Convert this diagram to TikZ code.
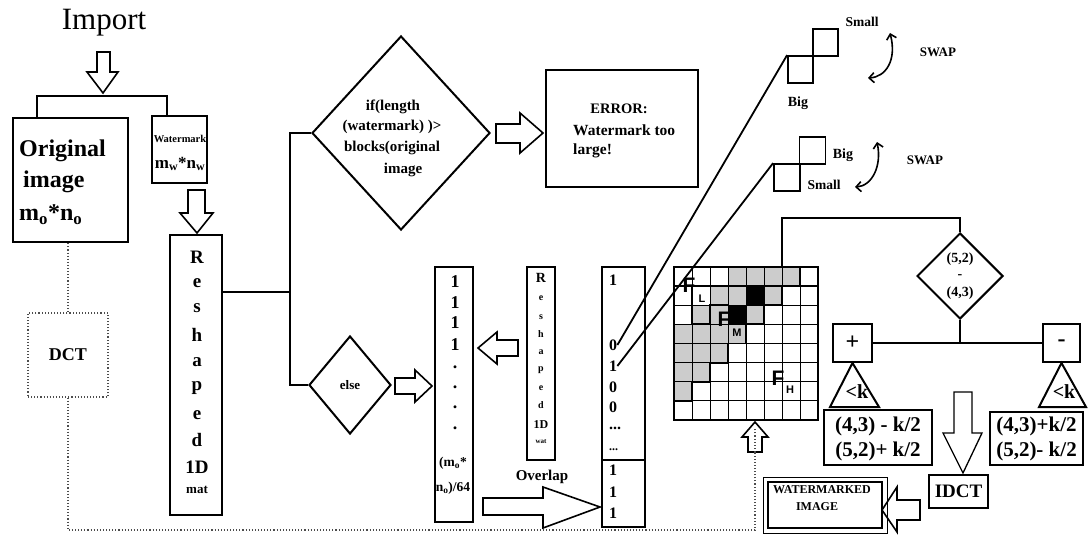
\documentclass[tikz,border=0pt]{standalone}
\usepackage{fontspec}
\setmainfont{Liberation Serif}
\setsansfont{Liberation Sans}
\usetikzlibrary{shapes.geometric,arrows.meta}
\begin{document}
\begin{tikzpicture}[x=1pt,y=-1pt,
 box/.style={draw,line width=2.4pt,inner sep=0,rectangle},
 tbox/.style={draw,line width=1.3pt,inner sep=0,rectangle},
 ln/.style={line width=1.6pt},
 harrow/.style={draw,line width=1.6pt,fill=white,line join=miter},
 dots/.style={dotted,line width=1.1pt,draw=black!70},
 tx/.style={inner sep=0,font=\bfseries\fontsize{#1}{#1}\selectfont},
 txr/.style={inner sep=0,font=\fontsize{#1}{#1}\selectfont},
 dia/.style={diamond,draw,line width=2pt,inner sep=0},
 sf/.style={inner sep=0,font=\sffamily\bfseries\fontsize{#1}{#1}\selectfont},
 barb/.style={line width=1.6pt,{Straight Barb[length=5pt,width=10pt]}-{Straight Barb[length=5pt,width=10pt]}},
]
\useasboundingbox (0,0) rectangle (1090,535);

% ---------- left part ----------
\node[txr=31] (imp) at (104,23) {Import};
\draw[harrow] (97,52)--(110,52)--(110,72)--(118,72)--(103,93)--(87,72)--(97,72)--cycle;

\node[box,minimum width=115pt,minimum height=124pt] (orig) at (70.5,180) {};
\node[tx=24,anchor=west] at (19,151) {Original};
\node[tx=24,anchor=west] at (23,182) {image};
\node[tx=24,anchor=west] at (19,215) {m\textsubscript{o}*n\textsubscript{o}};

\node[box,minimum width=55pt,minimum height=67pt] (wm) at (179.5,149.5) {};
\node[tx=10.5] at (180,139) {Watermark};
\node[tx=17] at (180,164) {m\textsubscript{w}*n\textsubscript{w}};

\draw[ln] ([xshift=25pt]orig.north west) -- ++(0,-21) -| ([xshift=16pt]wm.north west);

\draw[harrow] (188,190)--(205,190)--(205,213)--(213,213)--(197,233)--(180,213)--(188,213)--cycle;

\node[box,minimum width=52pt,minimum height=280pt] (resh) at (196,375) {};
\foreach \t/\y in {R/257,e/283,s/308,h/335,a/362,p/388,e/415,d/440,1D/467} \node[tx=19] at (197,\y) {\t};
\node[tx=13] at (197,490) {mat};

\node[draw,dotted,line width=1.1pt,draw=black!70,minimum width=80pt,minimum height=84pt,inner sep=0] (dct) at (68,355) {};
\node[tx=18] at (dct) {DCT};

% ---------- decision ----------
\node[dia,minimum width=178pt,minimum height=194pt] (d1) at (401,133) {};
\node[tx=15] at (393,107) {if(length};
\node[tx=15] at (392,127) {(watermark) )>};
\node[tx=15] at (392,148) {blocks(original};
\node[tx=15] at (403,170) {image};

\node[dia,minimum width=82pt,minimum height=98pt] (else) at (350,385) {};
\node[tx=13] at (else) {else};

\coordinate (j) at (290,292);
\draw[ln] (resh.east |- j) -- (j);
\draw[ln] (d1.west) -| (j) |- (else.west);

\draw[harrow] (496,124)--(520,124)--(520,113)--(543,133)--(520,153)--(520,143)--(496,143)--cycle;
\node[box,line width=2pt,minimum width=152pt,minimum height=117pt] (err) at (622,128.5) {};
\node[tx=14.5] at (619,109) {ERROR:};
\node[tx=15.5,anchor=west] at (573,130) {Watermark too};
\node[tx=15.5,anchor=west] at (573,151) {large!};

% ---------- columns ----------
\draw[harrow] (395,378)--(415,378)--(415,370)--(432,386)--(415,402)--(415,394)--(395,394)--cycle;
\node[tbox,minimum width=38pt,minimum height=255pt] (c1) at (454,394.5) {};
\foreach \y in {282,303,323,345} \node[tx=18] at (455,\y) {1};
\foreach \y in {367,387,407,428} \node[tx=18] at (455,\y) {.};
\node[tx=13.5] at (453,463) {(m\textsubscript{o}*};
\node[tx=13.5] at (453,488) {n\textsubscript{o})/64};

\draw[harrow] (518,340)--(497,340)--(497,332)--(478,348)--(497,364)--(497,356)--(518,356)--cycle;
\node[tbox,line width=1.6pt,minimum width=28pt,minimum height=193pt] (c2) at (541,363.5) {};
\node[tx=14] at (541,278) {R};
\foreach \t/\y in {e/298,s/317,h/334,a/352,p/370,e/388,d/405} \node[tx=10] at (541,\y) {\t};
\node[tx=12] at (541,425) {1D};
\node[tx=7] at (541,442) {wat};

\node[box,line width=2pt,minimum width=43pt,minimum height=193pt] (c3) at (623.5,363.5) {};
\node[box,line width=2pt,minimum width=43pt,minimum height=67pt] (c3b) at (623.5,493.5) {};
\node[tx=16,anchor=west] at (609,280) {1};
\node[tx=16,anchor=west] (v0) at (609,345) {0};
\node[tx=16,anchor=west] (v1) at (609,366) {1};
\node[tx=16,anchor=west] at (609,387) {0};
\node[tx=16,anchor=west] at (609,407) {0};
\node[tx=16,anchor=west] at (609,428) {...};
\node[tx=12,anchor=west] at (609,450) {...};
\foreach \y in {470,492,513} \node[tx=16,anchor=west] at (609,\y) {1};

\node[tx=15] at (542,477) {Overlap};
\draw[harrow] (483,498)--(543,498)--(543,487)--(600,507)--(543,528)--(543,515)--(483,515)--cycle;

% ---------- grid ----------
\begin{scope}[shift={(674,267)},x=18pt,y=-19.125pt]
 \foreach \c/\r in {3/0,4/0,5/0,6/0,2/1,3/1,5/1,1/2,2/2,4/2,0/3,1/3,2/3,3/3,0/4,1/4,2/4,0/5,1/5,0/6}
   \fill[gray!40] (\c,\r) rectangle ++(1,1);
 \fill[black] (4,1) rectangle ++(1,1);
 \fill[black] (3,2) rectangle ++(1,1);
 \foreach \i in {1,...,7} {\draw[line width=0.9pt] (\i,0)--(\i,8); \draw[line width=0.9pt] (0,\i)--(8,\i);}
 \draw[line width=1.8pt] (0,1)--(8,1);
 \draw[line width=1.8pt] (0,7)--(1,7)--(1,6)--(2,6)--(2,5)--(3,5)--(3,4)--(4,4)--(4,3)--(5,3)--(5,2)--(6,2)--(6,1)--(7,1)--(7,0);
 \draw[line width=1.8pt] (1,1)--(1,3)--(2,3)--(2,2)--(3,2);
 \draw[line width=2.2pt] (0,0) rectangle (8,8);
\end{scope}
\node[sf=21] at (689,285) {F};
\node[sf=11] at (702,299) {L};
\node[sf=21] at (724,319) {F};
\node[sf=11] at (737,333) {M};
\node[sf=21] at (778,378) {F};
\node[sf=11] at (790,390) {H};

\draw[harrow] (748,452)--(748,437)--(742,437)--(755,422)--(768,437)--(762,437)--(762,452)--cycle;
\coordinate (upb) at (755,452);

% ---------- swap squares ----------
\node[draw,line width=1.8pt,minimum width=25pt,minimum height=27pt,inner sep=0] (s1a) at (825.5,42.5) {};
\node[draw,line width=1.8pt,minimum width=25pt,minimum height=27pt,inner sep=0] (s1b) at (800.5,69.5) {};
\node[draw,line width=1.8pt,minimum width=26pt,minimum height=27pt,inner sep=0] (s2a) at (812.5,150.5) {};
\node[draw,line width=1.8pt,minimum width=26pt,minimum height=27pt,inner sep=0] (s2b) at (787,177.5) {};
\node[tx=13.5] at (862,22) {Small};
\node[tx=14] at (798,103) {Big};
\node[tx=14] at (843,155) {Big};
\node[tx=13.5] at (824,185) {Small};
\node[tx=13] at (938,52) {SWAP};
\node[tx=13] at (925,160) {SWAP};
\draw[barb] (868,78) .. controls (886,77) and (897,60) .. (890,33);
\draw[barb] (855,187) .. controls (872,186) and (882,166) .. (877,142);
\draw[line width=1.8pt] (v0.east) -- (s1b.north west);
\draw[line width=1.8pt] (v1.east) -- (s2b.north west);

% ---------- right part ----------
\coordinate (gtop) at (782,267);
\node[dia,minimum width=86pt,minimum height=86pt] (d3) at (960,276) {};
\node[tx=14] at (960,259) {(5,2)};
\node[tx=14] at (960,276.5) {-};
\node[tx=14] at (960,293) {(4,3)};
\draw[ln] (gtop) |- (d3.north |- 0,218) -- (d3.north);

\node[box,line width=2pt,minimum width=39pt,minimum height=38pt] (plus) at (852.5,343) {};
\node[tx=24] at (plus) {+};
\node[box,line width=2pt,minimum width=37pt,minimum height=38pt] (minus) at (1061.5,343) {};
\node[tx=24] at (minus) {-};
\draw[ln] (d3.south) -- (d3.south |- plus.east);
\draw[ln] (plus.east) -- (minus.west);

\draw[line width=2pt,line join=miter] (plus.south) -- (830,407) -- (879,407) -- cycle;
\node[tx=20] at (857,392) {<k};
\draw[line width=2pt,line join=miter] (minus.south) -- (1039,407) -- (1086,407) -- cycle;
\node[tx=20] at (1064,392) {<k};

\node[tbox,line width=1.6pt,minimum width=108pt,minimum height=55pt] (fl) at (878,437.5) {};
\node[tx=21] at (878,426) {(4,3) - k/2};
\node[tx=21] at (878,451) {(5,2)+ k/2};
\node[tbox,line width=1.6pt,minimum width=93pt,minimum height=53pt] (fr) at (1036.5,438.5) {};
\node[tx=21] at (1036.5,426) {(4,3)+k/2};
\node[tx=21] at (1036.5,451) {(5,2)- k/2};

\draw[harrow,line width=1.3pt] (954,392)--(972,392)--(972,433)--(982,433)--(963,473)--(943,433)--(954,433)--cycle;
\node[box,line width=2pt,minimum width=59pt,minimum height=33pt] (idct) at (958.5,491.5) {};
\node[tx=19] at (idct) {IDCT};

\draw[harrow] (920,500)--(897,500)--(897,487)--(882,510)--(897,532)--(897,520)--(920,520)--cycle;
\node[tbox,line width=1pt,minimum width=124pt,minimum height=56pt] (wmi) at (825,505) {};
\node[box,line width=2.6pt,minimum width=114pt,minimum height=46pt] at (825,505) {};
\node[tx=12] at (822,490) {WATERMARKED};
\node[tx=12] at (817,507) {IMAGE};

% ---------- dotted DCT path ----------
\draw[dots] (orig.south -| dct.north) -- (dct.north);
\draw[dots] (dct.south) -- (dct.south |- 0,530) -| (upb);
\draw[dots] (upb) -- (755,428);
\end{tikzpicture}
\end{document}
